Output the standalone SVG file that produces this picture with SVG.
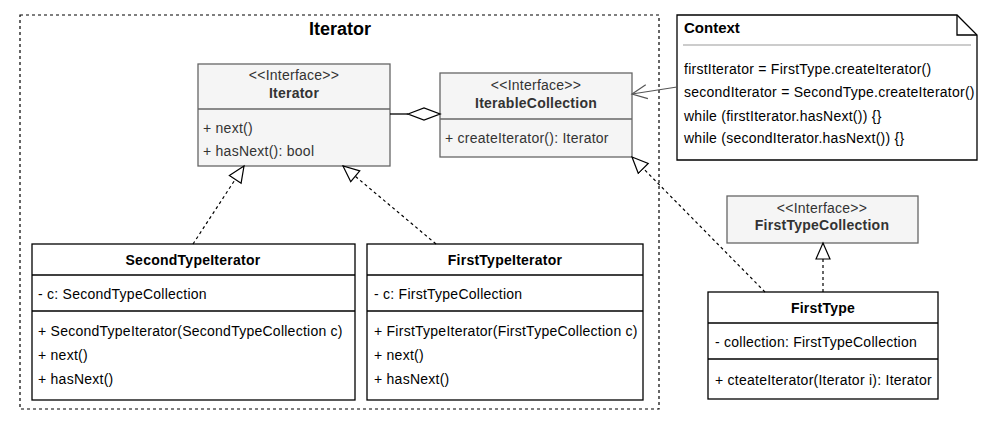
<svg xmlns="http://www.w3.org/2000/svg" width="1000" height="430" viewBox="0 0 1000 430">
<style>
text{font-family:"Liberation Sans",Arial,sans-serif;font-size:14px;letter-spacing:0.25px;fill:#000}
.b{font-weight:bold}
.c{text-anchor:middle}
.st{fill:#333}
.iface{fill:#f5f5f5;stroke:#666;stroke-width:1.3}
.cls{fill:#fff;stroke:#000;stroke-width:1.3}
.div{stroke:#000;stroke-width:1.3}
.idiv{stroke:#666;stroke-width:1.3}
.dash{fill:none;stroke:#000;stroke-width:1.2;stroke-dasharray:3 3}
</style>
<defs>
<marker id="tri" markerUnits="userSpaceOnUse" markerWidth="20" markerHeight="20" refX="17" refY="8" orient="auto" viewBox="0 0 20 16">
<path d="M1,1 L17,8 L1,15 Z" fill="#fff" stroke="#000" stroke-width="1.2"/>
</marker>
<marker id="open" markerUnits="userSpaceOnUse" markerWidth="20" markerHeight="20" refX="16" refY="8" orient="auto" viewBox="0 0 20 16">
<path d="M1,1 L16,8 L1,15" fill="none" stroke="#555" stroke-width="1.2"/>
</marker>
</defs>
<rect width="1000" height="430" fill="#fff"/>
<g id="frame">
<rect x="20" y="15" width="639" height="394" fill="none" stroke="#000" stroke-width="1.2" stroke-dasharray="3 3"/>
<text x="340" y="35" class="b c" style="font-size:18px;letter-spacing:0">Iterator</text>
</g>
<g id="iterator">
<rect class="iface" x="198" y="64" width="192" height="102"/>
<line class="idiv" x1="198" y1="109" x2="390" y2="109"/>
<text x="294" y="80" class="c st">&lt;&lt;Interface&gt;&gt;</text>
<text x="294" y="98" class="c b st">Iterator</text>
<text x="203" y="133" class="st">+ next()</text>
<text x="203" y="156" class="st">+ hasNext(): bool</text>
</g>
<g id="iterableCollection">
<rect class="iface" x="440" y="73" width="192" height="84"/>
<line class="idiv" x1="440" y1="119" x2="632" y2="119"/>
<text x="536" y="90" class="c st">&lt;&lt;Interface&gt;&gt;</text>
<text x="536" y="108" class="c b st">IterableCollection</text>
<text x="445" y="143" class="st">+ createIterator(): Iterator</text>
</g>
<g id="context">
<path d="M677,15 H957 L977,35 V160 H677 Z" fill="#fff" stroke="#000" stroke-width="1.3"/>
<path d="M957,15 V35 H977" fill="none" stroke="#000" stroke-width="1.3"/>
<text x="684" y="33" class="b" style="font-size:15px;letter-spacing:0">Context</text>
<line x1="683" y1="45" x2="971" y2="45" stroke="#ccc" stroke-width="2"/>
<text x="684" y="74">firstIterator = FirstType.createIterator()</text>
<text x="684" y="97">secondIterator = SecondType.createIterator()</text>
<text x="684" y="121">while (firstIterator.hasNext()) {}</text>
<text x="684" y="143">while (secondIterator.hasNext()) {}</text>
</g>
<g id="secondTypeIterator">
<rect class="cls" x="32" y="244" width="323" height="156"/>
<line class="div" x1="32" y1="275" x2="355" y2="275"/>
<line class="div" x1="32" y1="311" x2="355" y2="311"/>
<text x="193" y="265" class="c b">SecondTypeIterator</text>
<text x="38" y="299">- c: SecondTypeCollection</text>
<text x="38" y="336">+ SecondTypeIterator(SecondTypeCollection c)</text>
<text x="38" y="360">+ next()</text>
<text x="38" y="384">+ hasNext()</text>
</g>
<g id="firstTypeIterator">
<rect class="cls" x="367" y="244" width="276" height="156"/>
<line class="div" x1="367" y1="275" x2="643" y2="275"/>
<line class="div" x1="367" y1="311" x2="643" y2="311"/>
<text x="505" y="265" class="c b">FirstTypeIterator</text>
<text x="374" y="299">- c: FirstTypeCollection</text>
<text x="374" y="336">+ FirstTypeIterator(FirstTypeCollection c)</text>
<text x="374" y="360">+ next()</text>
<text x="374" y="384">+ hasNext()</text>
</g>
<g id="firstTypeCollection">
<rect class="iface" x="727" y="196" width="191" height="47"/>
<text x="822" y="213" class="c st">&lt;&lt;Interface&gt;&gt;</text>
<text x="822" y="230" class="c b st">FirstTypeCollection</text>
</g>
<g id="firstType">
<rect class="cls" x="708" y="292" width="230" height="107"/>
<line class="div" x1="708" y1="323" x2="938" y2="323"/>
<line class="div" x1="708" y1="359" x2="938" y2="359"/>
<text x="823" y="313" class="c b">FirstType</text>
<text x="715" y="347">- collection: FirstTypeCollection</text>
<text x="715" y="385">+ cteateIterator(Iterator i): Iterator</text>
</g>
<g id="connectors">
<line x1="390" y1="114" x2="408" y2="114" stroke="#000" stroke-width="1.3"/>
<path d="M408,114 L424,108 L440,114 L424,120 Z" fill="#fff" stroke="#000" stroke-width="1.3"/>
<line class="dash" x1="193" y1="244" x2="244" y2="166" marker-end="url(#tri)"/>
<line class="dash" x1="436" y1="244" x2="343" y2="166" marker-end="url(#tri)"/>
<line class="dash" x1="765" y1="292" x2="632" y2="157" marker-end="url(#tri)"/>
<line class="dash" x1="823" y1="292" x2="823" y2="243" marker-end="url(#tri)"/>
<line x1="677" y1="87" x2="632" y2="94" stroke="#555" stroke-width="1.2" marker-end="url(#open)"/>
</g>
</svg>
